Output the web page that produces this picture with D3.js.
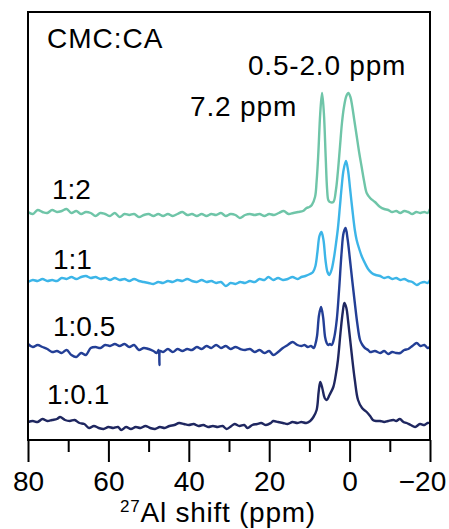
<!DOCTYPE html>
<html>
<head>
  <meta charset="utf-8">
  <title>27Al NMR</title>
  <script src="https://cdn.jsdelivr.net/npm/d3@7"></script>
  <style>
    html, body { margin: 0; padding: 0; background: #fff; overflow: hidden; }
    svg { display: block; }
    text { font-family: "Liberation Sans", Arial, sans-serif; fill: #000; }
  </style>
</head>
<body>
  <svg width="449" height="529" id="mainsvg"></svg>
  <script>
    // tick values and series names
    const majorTicks = [80, 60, 40, 20, 0, -20];
    const minorTicks = [70, 50, 30, 10, -10];
    const ratios = ["1:0.1", "1:0.5", "1:1", "1:2"];
    const offsets = [18, 93, 160, 227];   // vertical stacking of each trace (a.u.)

    // [ppm, intensity]
    const spec01 = [[80, 0], [78.8, 1], [77.6, 0], [76.4, 3], [75.2, 1], [74, 2], [72.8, 3], [72, 5], [70.8, 2], [69.6, 1], [68.4, 2], [67.2, -1], [66, -2], [64.8, -6], [63.6, -4], [62.4, -6], [61.2, -7], [60, -5], [58.8, -6], [57.6, -5], [56.8, -8], [55.6, -5], [54.4, -7], [53.2, -5], [52, -6], [50.8, -4], [49.6, -6], [48.4, -7], [47.2, -5], [46, -6], [44.8, -4], [43.6, -3], [42.4, -1], [41.2, -2], [40, -3], [38.8, -2], [37.6, -4], [36.4, -3], [35.2, -5], [34, -4], [32.8, -5], [31.6, -4], [30.6, -7], [29.4, -4], [28.6, -2], [27.4, -4], [26.2, -3], [25.4, -6], [24.2, -3], [23, -2], [22, -1], [20.8, -3], [19.6, -1], [19, 1], [17.8, 0], [16.6, -1], [15.4, -2], [14.2, 0], [13, -1], [12, 0], [10.8, -1], [9.8, 1], [9.0, 5], [8.2, 12], [7.7, 30], [7.3, 40], [6.8, 34], [6.2, 24], [5.7, 22], [5.0, 27], [4.05, 35], [3.4, 48], [2.9, 62], [2.2, 92], [1.7, 110], [1.3, 119], [0.8, 114], [0.4, 102], [-0.5, 69], [-1.3, 42], [-2.1, 22], [-3.1, 14], [-4.25, 10], [-5.1, 6], [-5.8, 2], [-6.6, 1], [-7.6, 1], [-8.6, 0], [-9.6, 1], [-10.9, 2], [-11.6, 1], [-12.5, 3], [-13.4, 0], [-14.2, -1], [-15.2, -3], [-16.3, -5], [-17.5, -2], [-18.6, -3], [-19.4, -1], [-20, -1]];

    const spec05 = [[80, 3], [78.8, 0], [77.6, 2], [76.4, 0], [75.2, -2], [74, -5], [72.8, -4], [71.6, -6], [70.4, -3], [69.2, -8], [68, -10], [66.8, -6], [65.6, -8], [64.4, -1], [63.2, 0], [62, -1], [60.8, 2], [59.6, 1], [58.4, 3], [57.2, 1], [56, 3], [54.8, 0], [53.6, 2], [52.4, -3], [51.2, -1], [50, -2], [48.8, -4], [48, -6], [47.5, -3], [47.3, -18], [47.1, -4], [46.4, -5], [45.2, -2], [44, -5], [42.8, -2], [41.6, -4], [40.4, -2], [39.2, -3], [38, 0], [36.8, -2], [35.6, 1], [34.4, -1], [33.2, 2], [32, -1], [30.8, 1], [29.6, -2], [28.4, 0], [27.2, -2], [26, -3], [24.8, -2], [23.6, -5], [22.4, -3], [21.2, -6], [20, -4], [19, -8], [17.8, -5], [16.6, -1], [15.4, 2], [14.2, 5], [13, 2], [12, 1], [11.2, 2], [10.4, 0], [9.6, 1], [8.9, -1], [8.5, 3], [8.1, 11], [7.6, 32], [7.1, 40], [6.6, 30], [6.1, 10], [5.7, 4], [5.3, 2], [4.9, 3], [4.45, 2], [3.8, 10], [3.2, 27], [2.6, 58], [2.0, 94], [1.5, 114], [1.0, 119], [0.5, 108], [-0.1, 87], [-0.7, 65], [-1.3, 44], [-1.9, 24], [-2.6, 7], [-3.2, 2], [-3.8, -1], [-4.6, -3], [-5.1, -5], [-6.3, -4], [-7.6, -6], [-8.6, -4], [-9.6, -7], [-10.6, -5], [-11.6, -6], [-12.6, -6], [-13.6, -3], [-14.6, -2], [-15.6, 1], [-16.7, 4], [-17.6, 1], [-18.6, 2], [-19.4, -1], [-20, 0]];

    const spec1 = [[80, -2], [78.8, 0], [77.6, -1], [76.4, 1], [75.2, -1], [74, 0], [72.8, -1], [71.6, 2], [70.4, 1], [69.2, 3], [68, 1], [66.8, 3], [65.6, 4], [64.4, 2], [63.2, 3], [62, 1], [60.8, 2], [59.6, 0], [58.4, 2], [57.2, 0], [56, 1], [54.8, -1], [53.6, 1], [52.4, -1], [51.2, -2], [50, -3], [48.8, -4], [47.6, -2], [46.4, -3], [45.2, -1], [44, -2], [42.8, 0], [41.6, -1], [40.4, 1], [39.2, -1], [38, -2], [36.8, 0], [35.6, -2], [34.4, -1], [33.2, -3], [32, -2], [30.8, -6], [29.6, -3], [28.4, -4], [27.2, -2], [26, -3], [24.8, -1], [23.6, -2], [22.4, 1], [21.2, 0], [20.2, 3], [19, 0], [17.8, 2], [16.6, 0], [15.4, 1], [14.2, 3], [13, 1], [12, 3], [11, 4], [9.85, 6], [9.1, 8], [8.5, 14], [8.0, 28], [7.5, 44], [7.0, 48], [6.5, 40], [6.0, 20], [5.5, 8], [5.05, 5], [4.5, 10], [3.9, 22], [3.4, 36], [2.9, 52], [2.4, 74], [2.0, 92], [1.5, 110], [0.9, 119], [0.4, 110], [-0.1, 92], [-0.7, 70], [-1.3, 50], [-1.75, 40], [-2.4, 31], [-3.1, 23], [-3.8, 17], [-4.6, 11], [-5.5, 7], [-6.5, 5], [-7.6, 4], [-8.6, 2], [-9.6, 3], [-10.6, 1], [-11.6, 2], [-12.6, 0], [-13.6, 1], [-14.6, -1], [-15.6, -2], [-16.7, -5], [-17.6, -3], [-18.6, -2], [-19.4, -3], [-20, 0]];

    const spec2 = [[80, 1], [78.8, -1], [77.6, 3], [76.4, 1], [75.2, 0], [74, 3], [72.8, 1], [71.6, 2], [70.4, 4], [69.2, 0], [68, 2], [66.8, -1], [65.6, 1], [64.4, 0], [63.2, -3], [62, 0], [60.8, -1], [59.6, -3], [58.4, 0], [57.2, -4], [56, -1], [54.8, -2], [53.6, -1], [52.4, -4], [51.2, -2], [50, -1], [48.8, -3], [47.6, -1], [46.4, -3], [45.2, -1], [44, -3], [42.8, -1], [41.6, 1], [40.4, -2], [39.2, -1], [38, -3], [36.8, -1], [35.6, -3], [34.4, -1], [33.2, -2], [32, 0], [30.8, -3], [29.6, -1], [28.4, -2], [27.3, -5], [26, -2], [24.8, -1], [23.6, -2], [22.4, -1], [21.2, -3], [20, -1], [18.8, -2], [17.6, 0], [16.4, 2], [15.2, -1], [14, 0], [12.8, 1], [11.6, 2], [10.7, 5], [10.0, 6], [9.4, 8], [8.6, 16], [8.2, 32], [7.8, 58], [7.3, 100], [6.85, 120], [6.4, 100], [5.95, 56], [5.6, 24], [5.3, 13], [4.9, 11], [4.05, 11], [3.4, 23], [2.9, 42], [2.4, 66], [1.9, 90], [1.4, 106], [0.8, 117], [0.3, 120], [-0.2, 116], [-0.6, 108], [-1.2, 92], [-1.8, 76], [-2.4, 60], [-3.0, 46], [-3.6, 32], [-4.25, 20], [-5.1, 15], [-6.3, 11], [-7.6, 6], [-8.6, 4], [-9.6, 3], [-10.6, 1], [-11.6, 2], [-12.6, 0], [-13.6, 2], [-14.6, 1], [-15.6, -1], [-16.6, 1], [-17.6, 0], [-18.6, 1], [-19.4, 0], [-20, 4]];

    const spectra = [spec01, spec05, spec1, spec2];
    const colors = ["#1f2760", "#233f96", "#3cb5e8", "#6fc5a8"];

    const svg = d3.select('svg');
    const width = +svg.attr('width');
    const height = +svg.attr('height');
    const margin = { top: 12, right: 19, bottom: 89, left: 28 };
    const innerWidth = width - margin.left - margin.right;
    const innerHeight = height - margin.top - margin.bottom;
    const g = svg.append('g')
      .attr('transform', `translate(${margin.left}, ${margin.top})`);

    const x = d3.scaleLinear().domain([80, -20]).range([0, innerWidth]);
    const y = d3.scaleLinear().domain([0, innerHeight]).range([innerHeight, 0]);

    const fontSize = 28;

    // traces
    spectra.forEach((spec, i) => {
      const line = d3.line()
        .x(d => x(d[0]))
        .y(d => y(d[1] + offsets[i]))
        .curve(d3.curveCatmullRom.alpha(0.5));
      g.append('path')
        .datum(spec)
        .attr('fill', 'none')
        .attr('stroke', colors[i])
        .attr('stroke-width', 2.4)
        .attr('stroke-linejoin', 'round')
        .attr('d', line);
    });

    // ratio labels, left side above each baseline
    const labelX = [19, 25, 25, 24];
    const labelDy = [18, 11, 11, 14];
    ratios.forEach((r, i) => {
      g.append('text')
        .attr('x', labelX[i])
        .attr('y', y(offsets[i]) - labelDy[i])
        .attr('font-size', fontSize)
        .text(r);
    });

    // annotations
    g.append('text').attr('x', 19).attr('y', 36).attr('font-size', fontSize)
      .attr('letter-spacing', 1).text('CMC:CA');
    g.append('text').attr('x', 220).attr('y', 63).attr('font-size', fontSize)
      .attr('letter-spacing', 0.8).text('0.5-2.0 ppm');
    g.append('text').attr('x', 162).attr('y', 104).attr('font-size', fontSize)
      .attr('letter-spacing', 0.85).text('7.2 ppm');

    // frame
    g.append('rect')
      .attr('width', innerWidth)
      .attr('height', innerHeight)
      .attr('fill', 'none')
      .attr('stroke', '#000')
      .attr('stroke-width', 2);

    // x axis: major + minor ticks
    const xAxis = g.append('g')
      .attr('transform', `translate(0, ${innerHeight})`)
      .call(d3.axisBottom(x).tickValues(majorTicks).tickSize(22).tickPadding(9));
    xAxis.select('.domain').remove();
    xAxis.selectAll('line').attr('stroke-width', 2);
    xAxis.selectAll('text')
      .attr('font-size', fontSize)
      .attr('font-family', '"Liberation Sans", Arial, sans-serif');
    xAxis.selectAll('.tick').filter(d => d === -20).select('text').attr('dx', -8);

    const xMinor = g.append('g')
      .attr('transform', `translate(0, ${innerHeight})`)
      .call(d3.axisBottom(x).tickValues(minorTicks).tickSize(12).tickFormat(''));
    xMinor.select('.domain').remove();
    xMinor.selectAll('line').attr('stroke-width', 2);

    // axis title
    const title = g.append('text')
      .attr('x', innerWidth / 2 - 11)
      .attr('y', innerHeight + 82)
      .attr('text-anchor', 'middle')
      .attr('font-size', fontSize)
      .attr('letter-spacing', 0.75);
    title.append('tspan').attr('font-size', 17).attr('dy', -10).text('27');
    title.append('tspan').attr('dy', 10).text('Al shift (ppm)');
  </script>
</body>
</html>
